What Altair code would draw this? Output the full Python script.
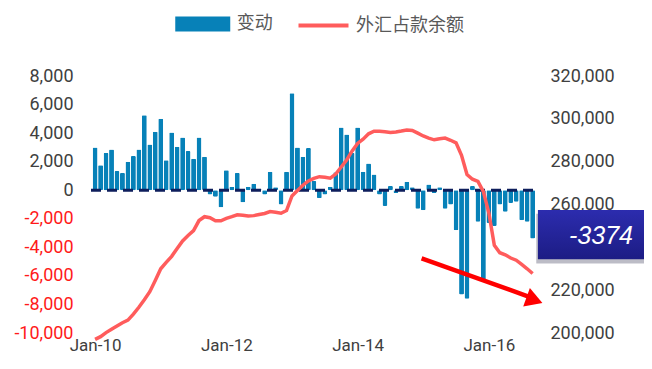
import altair as alt
import pandas as pd

# ---- data ----
months = list(range(81))  # Jan-2010 ... Sep-2016, monthly index
change = [3000, 1750, 2600, 2850, 1350, 1200, 2000, 2400, 2850, 5250, 3200, 4100,
          5000, 2100, 4050, 3050, 3700, 2750, 2200, 3700, 2350, -300, -450, -1200,
          1400, 250, 1200, -850, 250, 450, 100, -300, 1300, 200, -1000, 1300,
          6800, 3000, 2350, 2950, 650, -550, -300, 250, 1260, 4400, 3900, 2600,
          4400, 1300, 1870, 1100, -300, -1100, 300, -200, 300, 600, 200, -1300,
          -1400, 400, -200, 200, -1300, -1000, -2800, -7300, -7600, 300, -2200, -6300,
          -2300, -2500, -1000, -1500, -900, -800, -2100, -2200, -3374]
balance = [197000, 198300, 200200, 201800, 203300, 204800, 206000, 208800, 212000, 215500, 219300, 224500,
           230000, 233000, 235800, 239500, 243000, 245500, 247800, 252500, 254300, 253800, 252400, 252400,
           253500, 254300, 255200, 255000, 254600, 254800, 255300, 255800, 256700, 256400, 255900, 257200,
           264000, 266500, 269000, 271000, 272200, 273000, 272700, 272300, 274200, 277500, 280800, 285000,
           288500, 290500, 293000, 294200, 294200, 294000, 293600, 293900, 294300, 294800, 294600, 293300,
           292000, 291000, 290200, 290700, 291000, 290000, 288800, 283000, 274000, 271800, 270800, 266000,
           256000, 241000, 237500, 236500, 235000, 234000, 232000, 230000, 227800]
x_ticks = [0, 24, 48, 72]
left_ticks = list(range(-10000, 8001, 2000))
right_ticks = [200000, 220000, 260000, 280000, 300000, 320000]  # 240,000 sits under the callout box
series_bar = "变动"
series_line = "外汇占款余额"

# annotation anchors (month index, left-axis value)
box_x = [80.97, 104.0]
box_y = [-1390, -4840]
label_pos = [92.5, -3190]
arrow_from = [59.7, -4770]
arrow_to = [80.0, -7550]
arrow_head = [80.34, -7700]

BLUE = "#0781B8"
RED = "#FF5C5C"
NAVY = "#0E1E5C"
GREY = "#404040"
FONT = "Roboto"

df = pd.DataFrame({"t": months, "change": change, "balance": balance,
                   "s1": series_bar, "s2": series_line})

x_scale = alt.Scale(domain=[-1.3, 81.35], nice=False, zero=False, padding=0)
x_axis = alt.Axis(values=x_ticks, labelExpr="'Jan-' + (10 + datum.value/12)",
                  grid=False, domain=False, ticks=False, tickSize=0,
                  labelPadding=4, labelFontSize=17, labelColor=GREY,
                  labelFont=FONT, title=None, labelOverlap=False)
yl_scale = alt.Scale(domain=[-10000, 8000], nice=False, zero=False)
yl_axis = alt.Axis(values=left_ticks,
                   labelExpr="(datum.value < 0 ? '-' : '') + format(abs(datum.value), ',')",
                   labelColor={"condition": {"test": "datum.value < 0", "value": "#FF1A1A"},
                               "value": GREY},
                   grid=False, domain=False, ticks=False, tickSize=0, labelOverlap=False,
                   labelPadding=15, labelFontSize=18, labelFont=FONT, title=None)


def X(field):
    return alt.X(field, type="quantitative", scale=x_scale, axis=x_axis)


def YL(field):
    return alt.Y(field, type="quantitative", scale=yl_scale, axis=yl_axis)


bars = alt.Chart(df).mark_bar(width=4.9, cornerRadius=1.2).encode(
    x=X("t"),
    y=YL("change"),
    color=alt.Color("s1:N", scale=alt.Scale(domain=[series_bar], range=[BLUE]),
                    legend=alt.Legend(orient="none", legendX=100.75, legendY=-66,
                                      symbolType="M-2,-0.55H2V0.55H-2Z", symbolSize=756,
                                      symbolStrokeWidth=0, labelOffset=20, title=None,
                                      padding=0))
)

zero_df = pd.DataFrame({"x0": [-0.75], "x1": [80.9], "y": [0]})
zero_rule = alt.Chart(zero_df).mark_rule(color=NAVY, strokeWidth=3, strokeDash=[10, 6]).encode(
    x=X("x0"), x2="x1:Q", y=YL("y"))

box_df = pd.DataFrame({"x0": [box_x[0]], "x1": [box_x[1]], "y0": [box_y[0]], "y1": [box_y[1]]})
shadow = alt.Chart(box_df).mark_rect(color="#6B6B80", opacity=0.45).encode(
    x=X("sx0"), x2="x1:Q", y=YL("sy0"), y2="sy1:Q",
).transform_calculate(sy0="datum.y0 - 250", sy1="datum.y1 - 300", sx0="datum.x0 - 0.3")
box = alt.Chart(box_df).mark_rect(
    color=alt.Gradient(gradient="linear", x1=0, y1=0, x2=0, y2=1,
                       stops=[alt.GradientStop(color="#2C2CAE", offset=0),
                              alt.GradientStop(color="#1C1C84", offset=1)])
).encode(x=X("x0"), x2="x1:Q", y=YL("y0"), y2="y1:Q")

label_df = pd.DataFrame({"x": [label_pos[0]], "y": [label_pos[1]], "txt": [str(change[-1])]})
label = alt.Chart(label_df).mark_text(color="white", fontSize=25, fontStyle="italic",
                                      font="Liberation Sans", align="center",
                                      baseline="middle").encode(
    x=X("x"), y=YL("y"), text="txt:N")

arrow_df = pd.DataFrame({"x0": [arrow_from[0]], "x1": [arrow_to[0]],
                         "y0": [arrow_from[1]], "y1": [arrow_to[1]]})
arrow_line = alt.Chart(arrow_df).mark_rule(color="#FF0000", strokeWidth=4.5).encode(
    x=X("x0"), x2="x1:Q", y=YL("y0"), y2="y1:Q")
head_df = pd.DataFrame({"x": [arrow_head[0]], "y": [arrow_head[1]]})
arrow_tip = alt.Chart(head_df).mark_point(shape="triangle-right", size=380, filled=True,
                                          color="#FF0000", opacity=1, angle=20).encode(
    x=X("x"), y=YL("y"))

left = alt.layer(bars, zero_rule, arrow_line, arrow_tip, shadow, box, label)

line = alt.Chart(df).mark_line(strokeWidth=3.5).encode(
    x=X("t"),
    y=alt.Y("balance:Q",
            scale=alt.Scale(domain=[200000, 320000], nice=False, zero=False),
            axis=alt.Axis(orient="right", values=right_ticks,
                          labelExpr="format(datum.value, ',')", labelOverlap=False,
                          labelColor=GREY, grid=False, domain=False, ticks=False, tickSize=0,
                          labelPadding=10, labelFontSize=18, labelFont=FONT, title=None)),
    stroke=alt.Stroke("s2:N", scale=alt.Scale(domain=[series_line], range=[RED]),
                      legend=alt.Legend(orient="none", legendX=221, legendY=-65,
                                        symbolType="M-2,0H2", symbolSize=625,
                                        symbolStrokeWidth=4, labelOffset=18, title=None,
                                        padding=0))
)

chart = alt.layer(left, line).resolve_scale(y="independent", color="independent").properties(
    width=452, height=257,
    padding={"left": 80, "top": 68, "right": 104, "bottom": 24},
    autosize=alt.AutoSizeParams(type="none"),
).configure_view(stroke=None).configure_axis(labelOverlap=False).configure_legend(
    labelFont="Noto Sans CJK SC", labelFontSize=18, labelColor="#595959", labelLimit=300
)

chart.save("out.html", embed_options={"renderer": "svg", "actions": False})
